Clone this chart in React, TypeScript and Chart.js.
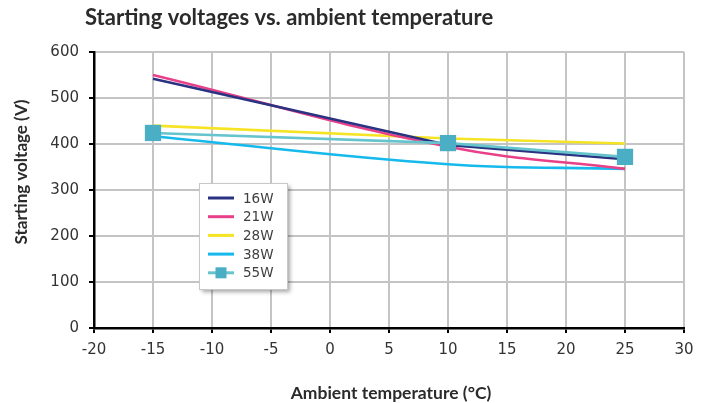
import React, { useEffect, useRef } from "react";
import { Chart, registerables } from "chart.js";

Chart.register(...registerables);

// ---- data ----
const chartTitle = "Starting voltages vs. ambient temperature";
const xTitle = "Ambient temperature (°C)";
const yTitle = "Starting voltage (V)";

const temperatures = [-15, 10, 25];
const seriesNames = ["16W", "21W", "28W", "38W", "55W"];
const v16W = [542, 398, 367];
const v21W = [550, 394, 346];
const v28W = [440, 412, 401];
const v38W = [417, 356, 346];
const v55W = [424, 402, 372];

const xMin = -20;
const xMax = 30;
const xStep = 5;
const yMin = 0;
const yMax = 600;
const yStep = 100;

// ---- styles ----
const seriesValues = [v16W, v21W, v28W, v38W, v55W];
const seriesColors = ["#2a3382", "#e8418a", "#f6e424", "#16b9ec", "#66c4cd"];
const seriesTension = [0, 0.4, 0, 0.4, 0];
const markerColor = "#4aaec4";
const tickFont = "'DejaVu Sans', sans-serif";
const titleFont = "Lato, 'Open Sans', sans-serif";

const overlayPlugin = {
  id: "overlayText",
  afterDraw(chart: any) {
    const ctx = chart.ctx as CanvasRenderingContext2D;
    const area = chart.chartArea;
    ctx.save();
    // chart title
    ctx.fillStyle = "#2b2b2b";
    ctx.font = `bold 22px ${titleFont}`;
    ctx.textAlign = "left";
    ctx.textBaseline = "alphabetic";
    ctx.fillText(chartTitle, area.left - 9, 25);
    // x title
    ctx.font = `bold 17.5px ${titleFont}`;
    ctx.textAlign = "center";
    ctx.fillText(xTitle, (area.left + area.right) / 2 + 2, chart.height - 4);
    // y title
    ctx.font = `bold 17px ${titleFont}`;
    ctx.save();
    ctx.translate(27, (area.top + area.bottom) / 2 - 18);
    ctx.rotate(-Math.PI / 2);
    ctx.fillText(yTitle, 0, 0);
    ctx.restore();

    // legend
    const lx = area.left + 105;
    const ly = area.top + 131;
    const lw = 88;
    const lh = 106;
    ctx.save();
    ctx.shadowColor = "rgba(0,0,0,0.35)";
    ctx.shadowBlur = 4;
    ctx.shadowOffsetX = 3;
    ctx.shadowOffsetY = 3;
    ctx.fillStyle = "#ffffff";
    ctx.fillRect(lx, ly, lw, lh);
    ctx.restore();
    ctx.strokeStyle = "#c8c8c8";
    ctx.lineWidth = 1;
    ctx.strokeRect(lx + 0.5, ly + 0.5, lw, lh);
    const datasets = chart.data.datasets;
    datasets.forEach((ds: any, i: number) => {
      const cy = ly + 15 + i * 18.7;
      ctx.strokeStyle = ds.borderColor;
      ctx.lineWidth = 3;
      ctx.beginPath();
      ctx.moveTo(lx + 9, cy);
      ctx.lineTo(lx + 35, cy);
      ctx.stroke();
      if (ds.pointRadius > 0) {
        ctx.fillStyle = ds.pointBackgroundColor;
        ctx.fillRect(lx + 22 - 5.5, cy - 5.5, 11, 11);
      }
      ctx.fillStyle = "#404040";
      ctx.font = `13.5px ${tickFont}`;
      ctx.textAlign = "left";
      ctx.textBaseline = "middle";
      ctx.fillText(ds.label, lx + 44, cy + 1);
    });
    ctx.restore();
  },
};

export default function App() {
  const canvasRef = useRef<HTMLCanvasElement | null>(null);

  useEffect(() => {
    const canvas = canvasRef.current;
    if (!canvas) return;
    const datasets = seriesNames.map((name, i) => ({
      label: name,
      data: temperatures.map((t, j) => ({ x: t, y: seriesValues[i][j] })),
      borderColor: seriesColors[i],
      backgroundColor: seriesColors[i],
      borderWidth: 2.6,
      tension: seriesTension[i],
      pointRadius: i === 4 ? 11.5 : 0,
      pointStyle: "rect",
      pointBackgroundColor: markerColor,
      pointBorderColor: markerColor,
      pointBorderWidth: 0,
      order: i === 4 ? 0 : 1,
      fill: false,
    }));

    const chart = new Chart(canvas, {
      type: "line",
      data: { datasets },
      options: {
        animation: false,
        responsive: false,
        devicePixelRatio: 1,
        layout: { padding: { top: 52, right: 20, left: 0, bottom: 0 } },
        plugins: {
          legend: { display: false },
          title: { display: false },
          tooltip: { enabled: false },
        },
        scales: {
          x: {
            type: "linear",
            min: xMin,
            max: xMax,
            ticks: {
              stepSize: xStep,
              color: "#333333",
              font: { family: tickFont, size: 15 },
              padding: 8,
              maxRotation: 0,
            },
            grid: {
              color: "#c4c4c4",
              lineWidth: 2,
              tickColor: "#000000",
              tickLength: 5,
              tickWidth: 2,
            },
            border: { color: "#000000", width: 2.5 },
            afterFit: (scale: any) => {
              scale.height = 75;
            },
          },
          y: {
            type: "linear",
            min: yMin,
            max: yMax,
            ticks: {
              stepSize: yStep,
              color: "#333333",
              font: { family: tickFont, size: 15 },
              padding: 10,
            },
            grid: {
              color: "#c4c4c4",
              lineWidth: 2,
              tickColor: "#000000",
              tickLength: 5,
              tickWidth: 2,
            },
            border: { color: "#000000", width: 2.5 },
            afterFit: (scale: any) => {
              scale.width = 94;
            },
          },
        },
      },
      plugins: [overlayPlugin],
    });
    return () => chart.destroy();
  }, []);

  return (
    <div style={{ position: "fixed", left: 0, top: 0, width: 704, height: 403, background: "#fff" }}>
      <canvas ref={canvasRef} width={704} height={403} style={{ width: 704, height: 403, display: "block" }} />
    </div>
  );
}
